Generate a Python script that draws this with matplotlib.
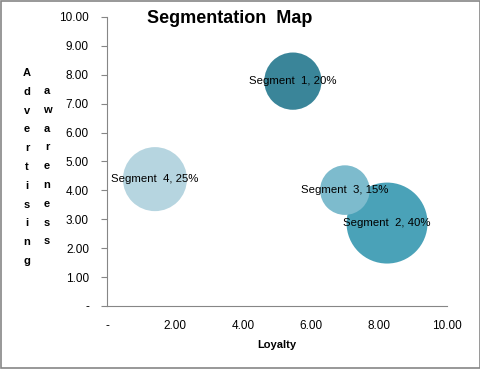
import matplotlib.pyplot as plt
import numpy as np

segments = ['Segment  1, 20%', 'Segment  2, 40%', 'Segment  3, 15%', 'Segment  4, 25%']
loyalty = [5.47, 8.24, 7.00, 1.41]
awareness = [7.78, 2.87, 4.01, 4.39]
share = [20, 40, 15, 25]
colors = ['#3A8599', '#4AA2B8', '#7DBBCD', '#B6D5E0']

ticks = [0, 2, 4, 6, 8, 10]
yticks = list(range(0, 11))


def fmt(v):
    return '-' if v == 0 else '%.2f' % v


fig = plt.figure(figsize=(4.81, 3.69), dpi=100)
fig.patches.append(plt.Rectangle((0.002, 0.003), 0.995, 0.994, transform=fig.transFigure,
                                 fill=False, edgecolor='#868686', lw=1.2))
ax = fig.add_axes([0.2225, 0.1707, 0.7065, 0.7833])

ax.scatter(loyalty, awareness, s=[85 * v for v in share], c=colors, edgecolors='none', zorder=2)
for name, x, y in zip(segments, loyalty, awareness):
    ax.text(x, y, name, ha='center', va='center', fontsize=8.2,
            family='Liberation Sans', zorder=3)

ax.set_xlim(0, 10)
ax.set_ylim(0, 10)
ax.set_xticks(ticks)
ax.set_xticklabels([fmt(v) for v in ticks])
ax.set_yticks(yticks)
ax.set_yticklabels([fmt(v) for v in yticks])
ax.tick_params(axis='x', length=0, pad=10, labelsize=8.5, colors='black')
ax.tick_params(axis='y', length=4, direction='out', pad=9, labelsize=8.5, color='#868686')
for lab in ax.get_xticklabels() + ax.get_yticklabels():
    lab.set_family('Liberation Sans')

for s in ['top', 'right']:
    ax.spines[s].set_visible(False)
for s in ['left', 'bottom']:
    ax.spines[s].set_color('#868686')

ax.set_xlabel('Loyalty', fontsize=8, fontweight='bold', family='Liberation Sans', labelpad=6)

fig.text(0.478, 0.951, 'Segmentation  Map', ha='center', va='center', fontsize=13,
         fontweight='bold', family='Liberation Sans')

word1 = 'Advertising'
word2 = 'awareness'
for i, ch in enumerate(word1):
    fig.text(27 / 481, 1 - (73 + i * 18.8) / 369, ch, ha='center', va='center',
             fontsize=8, fontweight='bold', family='Liberation Sans')
for i, ch in enumerate(word2):
    fig.text(47 / 481, 1 - (91 + i * 18.8) / 369, ch, ha='center', va='center',
             fontsize=8, fontweight='bold', family='Liberation Sans')

fig.savefig('out.png', dpi=100)
